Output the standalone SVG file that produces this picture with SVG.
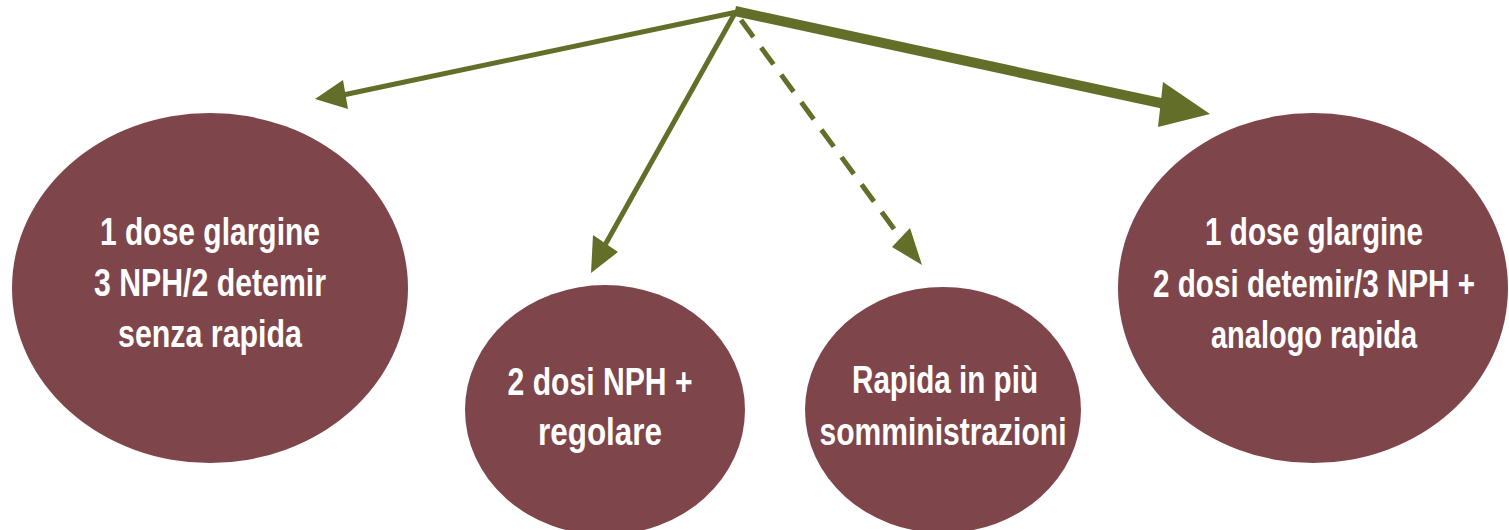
<svg xmlns="http://www.w3.org/2000/svg" width="1509" height="530" viewBox="0 0 1509 530">
<style>
.node{fill:#7e464b}
.lbl{font-family:"Liberation Sans Narrow","Liberation Sans",Arial,sans-serif;font-weight:bold;font-size:39px;fill:#ffffff;text-anchor:middle}
.ln{stroke:#636e28;fill:none;stroke-linecap:butt}
.hd{fill:#636e28}
</style>
<rect width="1509" height="530" fill="#ffffff"/>
<g id="connectors">
<line class="ln" x1="737" y1="12" x2="343" y2="95" stroke-width="5"/>
<polygon class="hd" points="315,99 343,80 348,109"/>
<line class="ln" x1="735" y1="13" x2="605" y2="245" stroke-width="5"/>
<polygon class="hd" points="591,273 593,235 618,252"/>
<line class="ln" x1="741" y1="20" x2="900" y2="237" stroke-width="5" stroke-dasharray="21,13"/>
<polygon class="hd" points="922,265 892,247 910,228"/>
<line class="ln" x1="735" y1="11" x2="1165" y2="104" stroke-width="10"/>
<polygon class="hd" points="1210,114 1163,82 1158,127"/>
</g>
<g id="node1">
<ellipse class="node" cx="210" cy="288" rx="198" ry="175"/>
<text class="lbl" x="210" y="245" textLength="220" lengthAdjust="spacingAndGlyphs">1 dose glargine</text>
<text class="lbl" x="210" y="296" textLength="232" lengthAdjust="spacingAndGlyphs">3 NPH/2 detemir</text>
<text class="lbl" x="210" y="347" textLength="184" lengthAdjust="spacingAndGlyphs">senza rapida</text>
</g>
<g id="node2">
<ellipse class="node" cx="605" cy="410" rx="140" ry="125"/>
<text class="lbl" x="600" y="395" textLength="185" lengthAdjust="spacingAndGlyphs">2 dosi NPH +</text>
<text class="lbl" x="600" y="445" textLength="124" lengthAdjust="spacingAndGlyphs">regolare</text>
</g>
<g id="node3">
<ellipse class="node" cx="943" cy="410" rx="138" ry="123"/>
<text class="lbl" x="945" y="393" textLength="186" lengthAdjust="spacingAndGlyphs">Rapida in più</text>
<text class="lbl" x="943" y="445" textLength="247" lengthAdjust="spacingAndGlyphs">somministrazioni</text>
</g>
<g id="node4">
<ellipse class="node" cx="1313" cy="288" rx="195" ry="175"/>
<text class="lbl" x="1314" y="245" textLength="218" lengthAdjust="spacingAndGlyphs">1 dose glargine</text>
<text class="lbl" transform="translate(1314,297) scale(0.76,1)" x="0" y="0">2 dosi detemir/3 NPH +</text>
<text class="lbl" x="1314" y="348" textLength="206" lengthAdjust="spacingAndGlyphs">analogo rapida</text>
</g>
</svg>
